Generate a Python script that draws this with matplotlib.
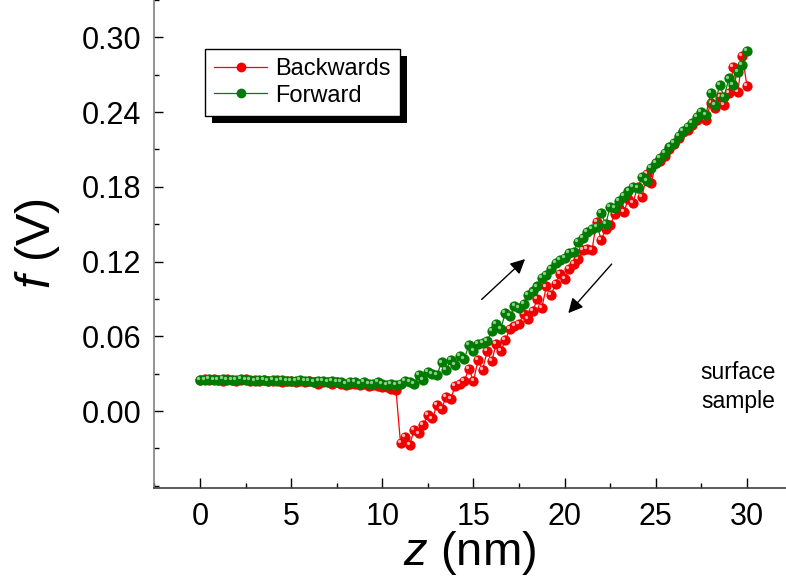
import numpy as np
import matplotlib
matplotlib.use('Agg')
import matplotlib.pyplot as plt
from matplotlib.patches import Rectangle
from matplotlib.transforms import ScaledTranslation
from matplotlib.ticker import MultipleLocator, FormatStrFormatter

plt.rcParams['font.family'] = ['Liberation Sans', 'DejaVu Sans']
plt.rcParams['mathtext.fontset'] = 'custom'
plt.rcParams['mathtext.it'] = 'Liberation Sans:italic'
plt.rcParams['mathtext.rm'] = 'Liberation Sans'

# tip-sample distance grid (nm), one sample every 0.25 nm
z = np.linspace(0, 30, 121)

backwards = [
    0.025, 0.026, 0.025, 0.026, 0.025, 0.024, 0.026, 0.025, 0.024, 0.025,
    0.026, 0.024, 0.025, 0.024, 0.025, 0.024, 0.024, 0.025, 0.023, 0.024,
    0.024, 0.023, 0.024, 0.023, 0.024, 0.023, 0.022, 0.023, 0.023, 0.022,
    0.023, 0.022, 0.021, 0.022, 0.022, 0.021, 0.022, 0.020, 0.021, 0.020,
    0.019, 0.019, 0.018, 0.017, -0.026, -0.021, -0.027, -0.015, -0.018, -0.011,
    -0.003, -0.006, 0.005, 0.002, 0.011, 0.010, 0.020, 0.022, 0.024, 0.034,
    0.024, 0.041, 0.033, 0.048, 0.040, 0.054, 0.048, 0.057, 0.066, 0.068,
    0.070, 0.078, 0.074, 0.080, 0.090, 0.083, 0.100, 0.093, 0.102, 0.110,
    0.106, 0.114, 0.118, 0.122, 0.129, 0.130, 0.129, 0.152, 0.137, 0.146,
    0.149, 0.158, 0.163, 0.160, 0.170, 0.167, 0.180, 0.172, 0.190, 0.183,
    0.199, 0.201, 0.205, 0.210, 0.214, 0.219, 0.224, 0.226, 0.230, 0.234,
    0.237, 0.234, 0.247, 0.243, 0.252, 0.246, 0.255, 0.276, 0.256, 0.285,
    0.261,
]

forward = [
    0.025, 0.025, 0.026, 0.025, 0.025, 0.026, 0.025, 0.025, 0.025, 0.026,
    0.025, 0.025, 0.024, 0.025, 0.025, 0.024, 0.025, 0.024, 0.025, 0.024,
    0.024, 0.024, 0.025, 0.024, 0.024, 0.023, 0.024, 0.024, 0.023, 0.024,
    0.023, 0.023, 0.022, 0.023, 0.023, 0.022, 0.023, 0.022, 0.022, 0.023,
    0.022, 0.021, 0.022, 0.021, 0.022, 0.024, 0.023, 0.022, 0.029, 0.025,
    0.031, 0.030, 0.029, 0.039, 0.033, 0.041, 0.037, 0.044, 0.042, 0.053,
    0.048, 0.054, 0.055, 0.056, 0.064, 0.070, 0.066, 0.079, 0.076, 0.084,
    0.083, 0.086, 0.093, 0.096, 0.100, 0.107, 0.109, 0.114, 0.119, 0.121,
    0.123, 0.127, 0.128, 0.136, 0.139, 0.144, 0.146, 0.148, 0.159, 0.150,
    0.164, 0.163, 0.169, 0.173, 0.177, 0.180, 0.179, 0.188, 0.185, 0.195,
    0.199, 0.203, 0.207, 0.212, 0.215, 0.221, 0.225, 0.228, 0.231, 0.236,
    0.240, 0.238, 0.255, 0.246, 0.262, 0.252, 0.267, 0.262, 0.272, 0.278,
    0.289,
]

yticks = [0.00, 0.06, 0.12, 0.18, 0.24, 0.30]

fig = plt.figure(figsize=(7.86, 5.79), dpi=100)
ax = fig.add_axes([154/786, 91/579, 632/786, 488/579])
ax.set_facecolor('none')

# lines with ball markers, plus a small highlight on each ball
hl = ax.transData + ScaledTranslation(-1.4/72, 1.4/72, fig.dpi_scale_trans)
ax.plot(z, backwards, color='#ff0000', lw=0.9, marker='o', ms=7.4,
        mec='none', mfc='#f20000', label='Backwards', zorder=2)
ax.plot(z, backwards, ls='none', marker='o', ms=2.4, mec='none',
        mfc='#ffb4b4', transform=hl, zorder=2)
ax.plot(z, forward, color='#008000', lw=0.9, marker='o', ms=7.4,
        mec='none', mfc='#007a00', label='Forward', zorder=3)
ax.plot(z, forward, ls='none', marker='o', ms=2.4, mec='none',
        mfc='#8ccf8c', transform=hl, zorder=3)

ax.set_xlim(-2.52, 32.14)
ax.set_ylim(-0.0618, 0.33)

ax.xaxis.set_major_locator(MultipleLocator(5))
ax.xaxis.set_minor_locator(MultipleLocator(2.5))
ax.set_yticks(yticks)
ax.yaxis.set_minor_locator(MultipleLocator(0.03))
ax.yaxis.set_major_formatter(FormatStrFormatter('%.2f'))

ax.tick_params(which='both', direction='in', labelsize=22, width=1, color='black')
ax.tick_params(axis='y', which='major', length=6.5, pad=9)
ax.tick_params(axis='y', which='minor', length=3.6)
ax.tick_params(axis='x', which='major', length=7, pad=10)
ax.tick_params(axis='x', which='minor', length=3.8)

ax.spines['top'].set_visible(False)
ax.spines['right'].set_visible(False)
ax.spines['left'].set_color('#808080')
ax.spines['bottom'].set_color('#404040')
ax.spines['left'].set_linewidth(1.2)
ax.spines['bottom'].set_linewidth(1.2)

ax.set_xlabel(r'$\mathit{z}$ (nm)', fontsize=34, labelpad=-2)
ax.set_ylabel(r'$\mathit{f}$ (V)', fontsize=35, labelpad=14)

# direction arrows
ax.annotate('', xy=(17.83, 0.122), xytext=(15.45, 0.0896),
            arrowprops=dict(arrowstyle='-|>', color='black', lw=1,
                            mutation_scale=22, shrinkA=0, shrinkB=0))
ax.annotate('', xy=(20.2, 0.0786), xytext=(22.58, 0.118),
            arrowprops=dict(arrowstyle='-|>', color='black', lw=1,
                            mutation_scale=22, shrinkA=0, shrinkB=0))

ax.text(29.5, 0.0193, 'surface\nsample', ha='center', va='center',
        fontsize=16.5, linespacing=1.3)

leg = ax.legend(loc='upper left', bbox_to_anchor=(205/786, 1 - 49/579),
                bbox_transform=fig.transFigure, borderaxespad=0,
                fontsize=17, fancybox=False, framealpha=1, edgecolor='black',
                handlelength=2.25, handletextpad=0.35, borderpad=0.38,
                labelspacing=0.2, markerscale=0.95)
leg.get_frame().set_linewidth(1.0)
leg.set_zorder(10)

# solid black drop shadow behind the legend box
fig.canvas.draw()
bb = leg.get_window_extent()
inv = ax.transAxes.inverted()
(x0, y0), (x1, y1) = inv.transform([(bb.x0 + 7, bb.y0 - 7), (bb.x1 + 7, bb.y1 - 7)])
ax.add_patch(Rectangle((x0, y0), x1 - x0, y1 - y0, transform=ax.transAxes,
                       facecolor='black', edgecolor='none', clip_on=False, zorder=9))

fig.savefig('out.png', dpi=100)
